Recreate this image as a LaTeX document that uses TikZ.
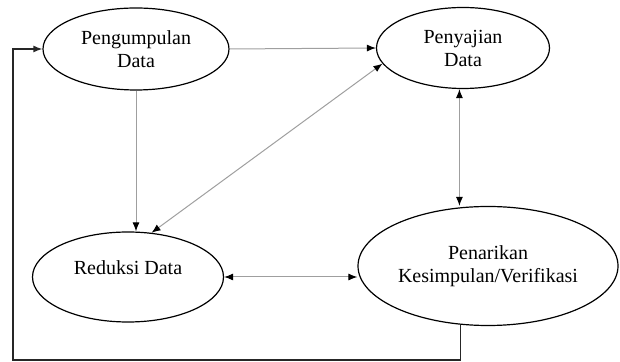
\documentclass[tikz,border=0pt]{standalone}
\usepackage{fontspec}
\setmainfont{Liberation Serif}
\usetikzlibrary{shapes.geometric,arrows.meta}

\begin{document}
\begin{tikzpicture}[x=0.5pt,y=-0.5pt,
        elips/.style={ellipse,draw,line width=0.6pt,inner sep=0pt,align=center,font=\fontsize{10}{11.5}\selectfont},
        panah/.style={gray!75,line width=0.5pt,-{Latex[length=4.5pt,width=3.5pt,color=black]}},
        duaarah/.style={gray!75,line width=0.5pt,{Latex[length=4.5pt,width=3.5pt,color=black]}-{Latex[length=4.5pt,width=3.5pt,color=black]}},
        balik/.style={black!85,line width=0.7pt,-{Latex[length=4.5pt,width=3.5pt]}}]
        \useasboundingbox (0,0) rectangle (620,362);

        % proses analisis
        \node[elips,minimum width=93pt,minimum height=41pt] (kumpul) at (136,49) {Pengumpulan\\Data};
        \node[elips,minimum width=86.5pt,minimum height=40.5pt] (saji) at (463,48) {Penyajian\\Data};
        \node[elips,minimum width=95.5pt,minimum height=45pt,text depth=9pt] (reduksi) at (128,277) {Reduksi Data};
        \node[elips,minimum width=130pt,minimum height=59.5pt] (tarik) at (488,266) {Penarikan\\Kesimpulan/Verifikasi};

        % hubungan
        \draw[panah] (kumpul.east) -- (saji.west);
        \draw[panah] (kumpul.south) -- (kumpul.south |- reduksi.north);
        \draw[duaarah] (reduksi.62) -- (saji.191);
        \draw[duaarah] (saji.265) -- (saji.265 |- tarik.north);
        \draw[duaarah] (reduksi.east) -- (reduksi.east -| tarik.west);

        % umpan balik
        \coordinate (pojok) at (13,360);
        \draw[balik] (tarik.245) |- (pojok) |- (kumpul.west);
\end{tikzpicture}
\end{document}
